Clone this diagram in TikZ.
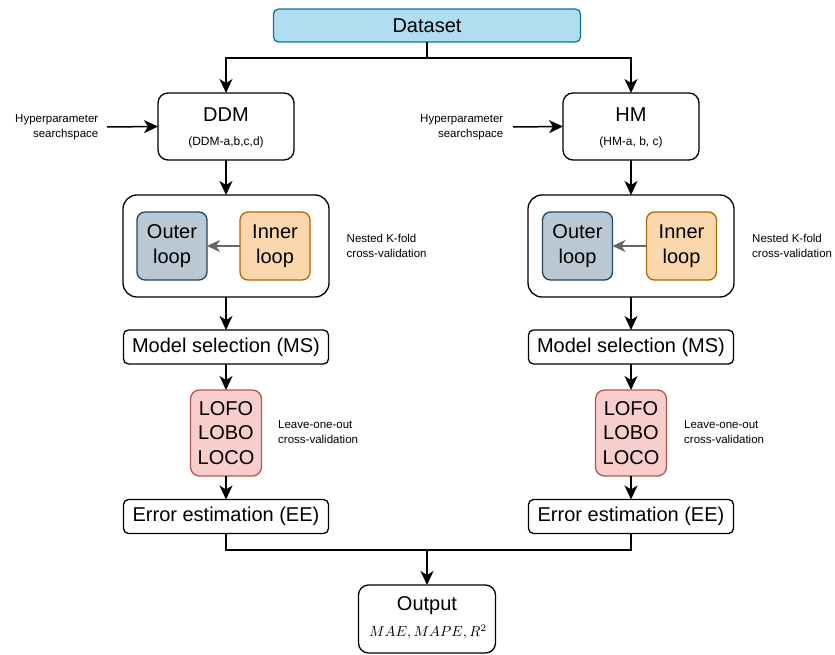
\documentclass[tikz,border=0pt]{standalone}
\usepackage{fontspec}
\setmainfont{Liberation Sans}
\usetikzlibrary{arrows.meta}
\definecolor{dsfill}{HTML}{B1DDF0}
\definecolor{dsline}{HTML}{10739E}
\definecolor{outfill}{HTML}{BAC8D3}
\definecolor{outline}{HTML}{23445D}
\definecolor{infill}{HTML}{FAD7AC}
\definecolor{inline}{HTML}{B46504}
\definecolor{lofill}{HTML}{F8CECC}
\definecolor{loline}{HTML}{B85450}
\definecolor{arrgray}{HTML}{666666}
\begin{document}
\begin{tikzpicture}[x=1pt,y=-1pt,
  base/.style={draw=black,line width=1.3pt,inner sep=0pt,outer sep=0pt,align=center},
  bigtxt/.style={font=\fontsize{20}{24}\selectfont},
  smalltxt/.style={font=\fontsize{11.5}{15}\selectfont,inner sep=0pt},
  modelbox/.style={base,rounded corners=10pt,minimum width=136pt,minimum height=67pt},
  nestbox/.style={base,rounded corners=14pt,minimum width=206pt,minimum height=102pt},
  stagebox/.style={base,bigtxt,rounded corners=5pt,minimum width=205pt,minimum height=34pt},
  loopbox/.style={base,rounded corners=8pt,minimum width=70pt,minimum height=68pt,
    font=\fontsize{20}{25}\selectfont},
  outerbox/.style={loopbox,fill=outfill,draw=outline},
  innerbox/.style={loopbox,fill=infill,draw=inline},
  leavebox/.style={base,rounded corners=9pt,fill=lofill,draw=loline,minimum width=71pt,minimum height=86pt,
    font=\fontsize{20}{24.5}\selectfont},
  flow/.style={line width=1.5pt,-{Stealth[length=14pt,width=13pt,inset=4pt]}},
  line/.style={line width=1.5pt},
  inarrow/.style={line width=1.8pt,arrgray,-{Stealth[length=13pt,width=12pt,inset=4pt]}}
]
\useasboundingbox (0,0) rectangle (835,655);

% data source
\node[base,bigtxt,fill=dsfill,draw=dsline,rounded corners=5pt,minimum width=307pt,minimum height=33pt]
  (data) at (427,25.5) {Dataset};
\coordinate (split) at (427,58);

% ---------------- left branch: data-driven models ----------------
\node[modelbox] (ddm) at (226,126.5) {};
\node[bigtxt,inner sep=0pt] (ddmt) at (226,115) {DDM};
\node[font=\fontsize{12}{14}\selectfont,inner sep=0pt] (ddms) at (226,142) {(DDM-a,b,c,d)};
\node[smalltxt,anchor=east,align=right] (hypl) at (98.5,127.5) {Hyperparameter\\searchspace};
\coordinate (hypla) at (107,127);

\node[nestbox] (nestl) at (226,246) {};
\node[outerbox] (outl) at (172,246) {Outer\\loop};
\node[innerbox] (innl) at (275,246) {Inner\\loop};
\node[smalltxt,anchor=west,align=left] (nestlt) at (346.5,245.5) {Nested K-fold\\cross-validation};

\node[stagebox] (msl) at (226,347) {Model selection (MS)};
\node[leavebox] (lol) at (226,433) {LOFO\\LOBO\\LOCO};
\node[smalltxt,anchor=west,align=left] (lolt) at (278,432) {Leave-one-out\\cross-validation};
\node[stagebox] (eel) at (226,516.5) {Error estimation (EE)};

% ---------------- right branch: hybrid models ----------------
\node[modelbox] (hm) at (631,126.5) {};
\node[bigtxt,inner sep=0pt] (hmt) at (631,115) {HM};
\node[font=\fontsize{12}{14}\selectfont,inner sep=0pt] (hms) at (631,142) {(HM-a, b, c)};
\node[smalltxt,anchor=east,align=right] (hypr) at (503.5,127.5) {Hyperparameter\\searchspace};
\coordinate (hypra) at (513,127);

\node[nestbox] (nestr) at (631,246) {};
\node[outerbox] (outr) at (577.5,246) {Outer\\loop};
\node[innerbox] (innr) at (681.5,246) {Inner\\loop};
\node[smalltxt,anchor=west,align=left] (nestrt) at (752,245.5) {Nested K-fold\\cross-validation};

\node[stagebox] (msr) at (631,347) {Model selection (MS)};
\node[leavebox] (lor) at (631,433) {LOFO\\LOBO\\LOCO};
\node[smalltxt,anchor=west,align=left] (lort) at (684,432) {Leave-one-out\\cross-validation};
\node[stagebox] (eer) at (631,516.5) {Error estimation (EE)};

% ---------------- result ----------------
\coordinate (merge) at (427,550);
\node[base,rounded corners=10pt,minimum width=137pt,minimum height=68pt] (out) at (427,619) {};
\node[bigtxt,inner sep=0pt] (outt) at (427,606) {Output};
\node[inner sep=0pt] (outm) at (428,632) {\scalebox{1.45}{$MAE, MAPE, R^2$}};

% ---------------- connectors ----------------
\draw[line] (data.south) -- (split);
\draw[flow] (split) -| (ddm.north);
\draw[flow] (split) -| (hm.north);
\draw[flow] (hypla) -- (ddm.west);
\draw[flow] (hypra) -- (hm.west);

\draw[flow] (ddm.south) -- (nestl.north);
\draw[inarrow] (innl.west) -- (outl.east);
\draw[flow] (nestl.south) -- (msl.north);
\draw[flow] (msl.south) -- (lol.north);
\draw[flow] (lol.south) -- (eel.north);

\draw[flow] (hm.south) -- (nestr.north);
\draw[inarrow] (innr.west) -- (outr.east);
\draw[flow] (nestr.south) -- (msr.north);
\draw[flow] (msr.south) -- (lor.north);
\draw[flow] (lor.south) -- (eer.north);

\draw[line] (eel.south) |- (merge);
\draw[line] (eer.south) |- (merge);
\draw[flow] (merge) -- (out.north);
\end{tikzpicture}
\end{document}
